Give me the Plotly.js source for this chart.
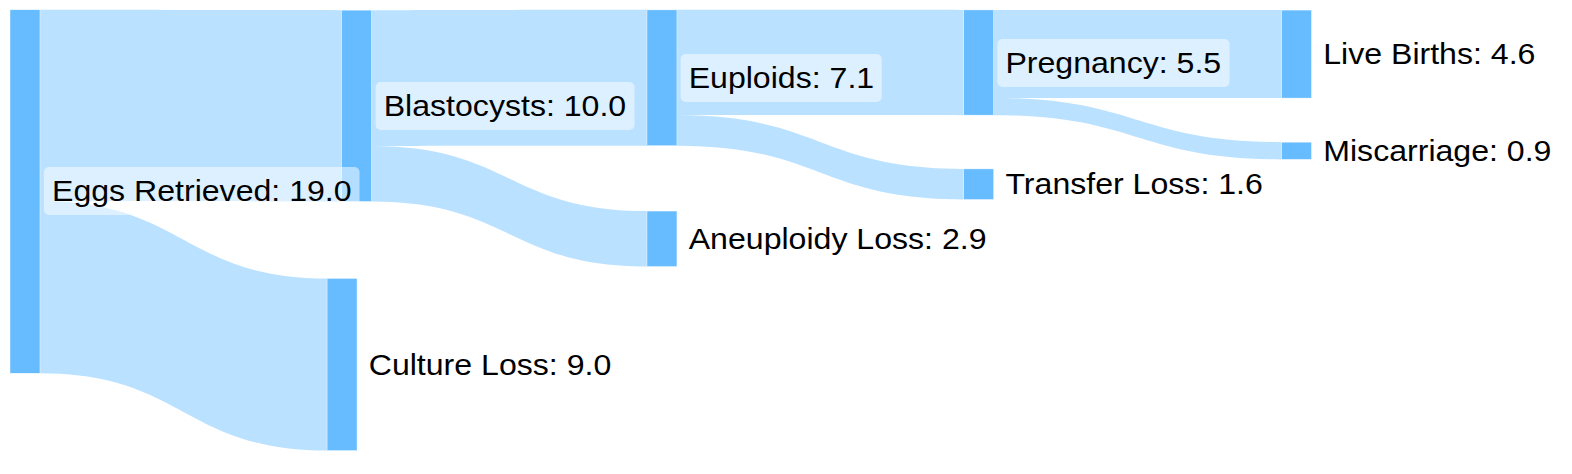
<!DOCTYPE html>
<html>
<head>
<meta charset="utf-8">
<script src="https://cdn.plot.ly/plotly-3.0.1.min.js"></script>
<style>
  html, body { margin: 0; padding: 0; overflow: hidden; background: #ffffff; }
  #chart { width: 1469px; height: 474px; transform: scaleX(1.0701); transform-origin: 0 0; }
</style>
</head>
<body>
<div id="chart"></div>
<script>
// ---- data ----
const nodeNames = ['Eggs Retrieved', 'Blastocysts', 'Culture Loss', 'Euploids', 'Aneuploidy Loss',
                   'Pregnancy', 'Transfer Loss', 'Live Births', 'Miscarriage'];
const linkSources = [0, 0, 1, 1, 3, 3, 5, 5];
const linkTargets = [1, 2, 3, 4, 5, 6, 7, 8];
const linkValues  = [10.0, 9.0, 7.1, 2.9, 5.5, 1.6, 4.6, 0.9];

// ---- layout (node centres, normalised) ----
const nodeX = [0.0159, 0.2268, 0.2176, 0.4211, 0.4211, 0.6226, 0.6226, 0.8248, 0.8248];
const nodeY = [0.4040, 0.2232, 0.7690, 0.1641, 0.5038, 0.1319, 0.3886, 0.1141, 0.3181];
const BASE_W = 1469, BASE_H = 474;
const THICK = 28.0, PAD = 110.5;

const nodeVal = nodeNames.map((_, i) => {
  let inS = 0, outS = 0;
  linkSources.forEach((s, k) => {
    if (s === i) outS += linkValues[k];
    if (linkTargets[k] === i) inS += linkValues[k];
  });
  return Math.max(inS, outS);
});

const trace = {
  type: 'sankey',
  orientation: 'h',
  arrangement: 'fixed',
  domain: { x: [0, 1], y: [0, 1] },
  node: {
    label: nodeNames.map(() => ''),
    customdata: nodeNames,
    hovertemplate: '%{customdata}: %{value}<extra></extra>',
    x: nodeX,
    y: nodeY,
    pad: PAD,
    thickness: THICK,
    align: 'left',
    color: '#66bcff',
    line: { color: 'rgba(255,255,255,0.8)', width: 0.5 }
  },
  link: {
    source: linkSources,
    target: linkTargets,
    value: linkValues,
    color: 'rgba(102,188,255,0.45)'
  }
};

const annotations = nodeNames.map((n, i) => ({
  xref: 'paper', yref: 'paper',
  x: nodeX[i] + THICK / 2 / BASE_W,
  y: 1 - nodeY[i],
  xanchor: 'left', yanchor: 'middle',
  xshift: 3.4,
  showarrow: false,
  text: n + ': ' + nodeVal[i].toFixed(1),
  font: { family: 'Liberation Sans, Arial, Helvetica, sans-serif', size: 30, color: '#000000' },
  bgcolor: 'rgba(255,255,255,0.5)',
  borderpad: 7.5,
  borderwidth: 0
}));

const layout = {
  width: BASE_W,
  height: BASE_H,
  margin: { l: 0, r: 0, t: 0, b: 0 },
  paper_bgcolor: '#ffffff',
  plot_bgcolor: '#ffffff',
  font: { family: 'Liberation Sans, Arial, sans-serif', size: 30, color: '#000000' },
  annotations: annotations
};

Plotly.newPlot('chart', [trace], layout, { displayModeBar: false, staticPlot: true }).then(gd => {
  gd.querySelectorAll('.annotation rect.bg').forEach(r => {
    r.setAttribute('rx', 5);
    r.setAttribute('ry', 5);
  });
});
</script>
</body>
</html>
